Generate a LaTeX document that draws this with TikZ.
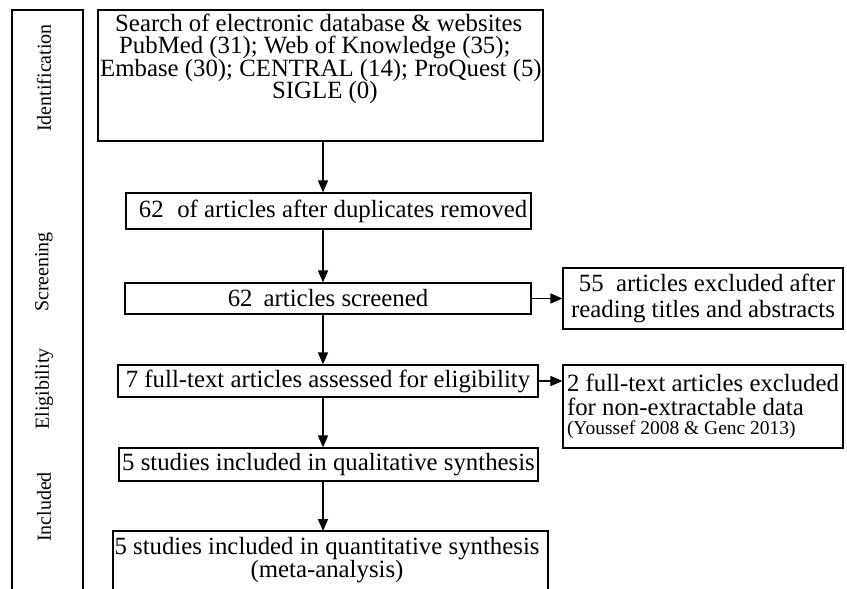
\documentclass[tikz,border=0pt]{standalone}
\usepackage{fontspec}
\setmainfont{Liberation Serif}
\usetikzlibrary{arrows.meta}
\begin{document}
\begin{tikzpicture}[x=1pt,y=-1pt,
  box/.style={draw, line width=1.2pt, inner sep=0pt, align=center, font=\fontsize{24.8}{22.5}\selectfont},
  txt/.style={inner sep=0pt, font=\fontsize{24.8}{22.5}\selectfont},
  arr/.style={line width=1.6pt, -{Triangle[length=12pt,width=10pt]}},
  phase/.style={rotate=90, inner sep=0pt, font=\fontsize{20}{22}\selectfont},
  frame/.style={draw, line width=1.2pt}]
\useasboundingbox (0,0) rectangle (847,589);

% left phase column (open at bottom)
\draw[frame] (12,589) -- (12,10) -- (83,10) -- (83,589);
\node[phase] (pid) at (44,78) {Identification};
\node[phase] (psc) at (44,272) {Screening};
\node[phase] (pel) at (44,389) {Eligibility};
\node[phase] (pin) at (44,507) {Included};

% top box
\node[box, minimum width=445pt, minimum height=131pt] (box1) at (320.5,75.5) {};
\node[txt, anchor=base west] (t1) at (115,31) {Search of electronic database \& websites};
\node[txt, anchor=base west] (t2) at (119,53.5) {PubMed (31); Web of Knowledge (35);};
\node[txt, anchor=base west] (t3) at (100,76) {Embase (30); CENTRAL (14); ProQuest (5)};
\node[txt, anchor=base west] (t4) at (272,98.5) {SIGLE (0)};

\node[box, minimum width=405pt, minimum height=36pt] (box2) at (328.5,211) {\hspace*{9pt}62\hspace{0.55em}of articles after duplicates removed};
\node[box, minimum width=406pt, minimum height=31pt] (box3) at (328,298.5) {62\hspace{0.45em}articles screened};
\node[box, minimum width=420pt, minimum height=32pt] (box4) at (328,381) {7 full-text articles assessed for eligibility};
\node[box, minimum width=419pt, minimum height=33pt] (box5) at (328.5,464.5) {5 studies included in qualitative synthesis};

% bottom box (open at bottom)
\draw[frame] (113,589) -- (113,531) -- (548,531) -- (548,589);
\coordinate (box6top) at (323,531);
\node[txt, align=center] (box6) at (327,560) {5 studies included in quantitative synthesis\\(meta-analysis)};

% right boxes
\node[box, minimum width=280pt, minimum height=61pt, font=\fontsize{24.8}{25.5}\selectfont] (ex1) at (703,298.5) {\hspace*{8pt}55\hspace{0.5em}articles excluded after\\reading titles and abstracts};
\node[box, minimum width=280pt, minimum height=83pt, align=left, font=\fontsize{24.8}{24}\selectfont] (ex2) at (703,406.5) {2 full-text articles excluded\\for non-extractable data\\[-5pt]{\fontsize{19.5}{20}\selectfont (Youssef 2008 \& Genc 2013)}};

% connectors
\coordinate (ax) at (323,0);
\draw[arr] (box1.south -| ax) -- (box2.north -| ax);
\draw[arr] (box2.south -| ax) -- (box3.north -| ax);
\draw[arr] (box3.south -| ax) -- (box4.north -| ax);
\draw[arr] (box4.south -| ax) -- (box5.north -| ax);
\draw[arr] (box5.south -| ax) -- (box6top);
\draw[arr] (box3.east) -- (box3.east -| ex1.west);
\draw[arr] (box4.east) -- (box4.east -| ex2.west);
\end{tikzpicture}
\end{document}
